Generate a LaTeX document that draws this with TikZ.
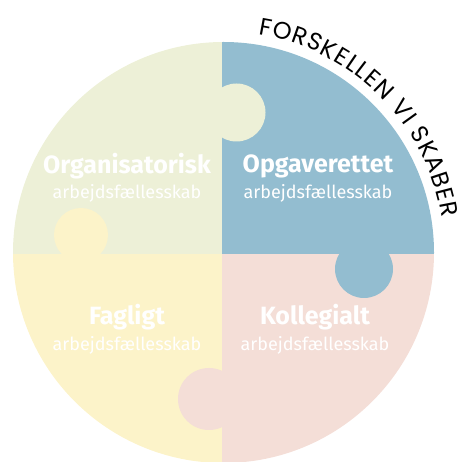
\documentclass[tikz,border=0pt]{standalone}
\usepackage{fontspec}
\usepackage{tikz}
\usetikzlibrary{decorations.text}
\newfontfamily\labelfont{Fira Sans}
\newfontfamily\arcfont{Poppins}
\definecolor{orgcol}{HTML}{EDF0D7}
\definecolor{opgcol}{HTML}{93BDD0}
\definecolor{fagcol}{HTML}{FCF3C9}
\definecolor{kolcol}{HTML}{F4DED7}
\tikzstyle{title} = [text=white, font=\labelfont\bfseries\fontsize{25}{29}\selectfont]
\tikzstyle{subtitle} = [text=white, font=\labelfont\fontsize{18}{21}\selectfont]
\tikzstyle{knob} = [circle, inner sep=0pt, minimum size=58pt]

\begin{document}
\begin{tikzpicture}[x=1pt,y=1pt]
            \useasboundingbox (0,0) rectangle (462,462);
            \coordinate (c) at (223.5,209.5);
            \begin{scope}
            \clip (c) circle (210.5pt);
            \fill [orgcol] (0,208) rectangle (222,462);
            \fill [opgcol] (222,208) rectangle (462,462);
            \fill [fagcol] (0,-10) rectangle (222,208);
            \fill [kolcol] (222,-10) rectangle (462,208);
            \end{scope}
            \node [knob, fill=orgcol] at (236.5,349.5) (orgknob) {};
            \node [knob, fill=fagcol, minimum size=54pt] at (81,227) (fagknob) {};
            \node [knob, fill=opgcol] at (364,193) (opgknob) {};
            \node [knob, fill=kolcol, minimum size=62pt] at (209,63) (kolknob) {};

            \node [title] at (127,296) (org) {Organisatorisk};
            \node [subtitle] at (127,269) (orgsub) {arbejdsfællesskab};
            \node [title] at (318,296) (opg) {Opgaverettet};
            \node [subtitle] at (318,269) (opgsub) {arbejdsfællesskab};
            \node [title] at (127,145) (fag) {Fagligt};
            \node [subtitle] at (127,117) (fagsub) {arbejdsfællesskab};
            \node [title] at (315,145) (kol) {Kollegialt};
            \node [subtitle] at (315,117) (kolsub) {arbejdsfællesskab};

            \path [decorate,
                decoration={text along path, text align={fit to path},
                text={|\arcfont\fontsize{24}{28}\selectfont|FORSKELLEN VI SKABER}}]
                (c) ++(81:221pt) arc [start angle=81, end angle=9, radius=221pt];
\end{tikzpicture}
\end{document}
